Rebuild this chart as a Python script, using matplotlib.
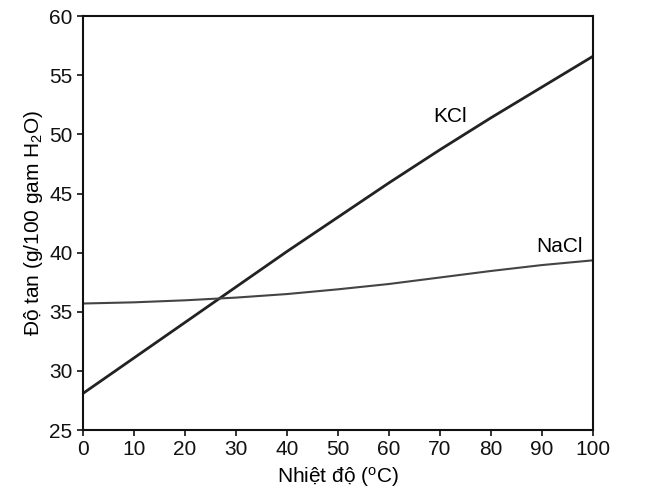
import matplotlib
matplotlib.use("Agg")
import matplotlib.pyplot as plt

# data
temps = [0, 10, 20, 30, 40, 50, 60, 70, 80, 90, 100]
kcl = [28.1, 31.1, 34.1, 37.1, 40.1, 43.0, 45.9, 48.7, 51.4, 54.0, 56.6]
nacl = [35.7, 35.8, 35.97, 36.2, 36.5, 36.9, 37.35, 37.9, 38.45, 38.95, 39.35]

plt.rcParams['font.family'] = ['Liberation Sans', 'DejaVu Sans']
plt.rcParams['mathtext.default'] = 'regular'

fig = plt.figure(figsize=(6.61, 5.03), dpi=100)
ax = fig.add_axes([0.1256, 0.145, 0.7714, 0.823])

ax.plot(temps, kcl, color='#222222', lw=2.0)
ax.plot(temps, nacl, color='#444444', lw=1.5)

ax.text(72, 51.5, 'KCl', fontsize=15, ha='center', va='center')
ax.text(93.5, 40.5, 'NaCl', fontsize=15, ha='center', va='center')

ax.set_xlim(0, 100)
ax.set_ylim(25, 60)
ax.set_xticks(range(0, 101, 10))
ax.set_yticks(range(25, 61, 5))
ax.tick_params(labelsize=15, length=4, width=1.2, direction='out', colors='#111111')
for s in ax.spines.values():
    s.set_linewidth(1.5)
    s.set_color('#111111')

ax.set_xlabel('Nhiệt độ ($^{o}$C)', fontsize=15, labelpad=4)
ax.set_ylabel('Độ tan (g/100 gam H$_2$O)', fontsize=15, labelpad=3)

fig.savefig('out.png', dpi=100)
